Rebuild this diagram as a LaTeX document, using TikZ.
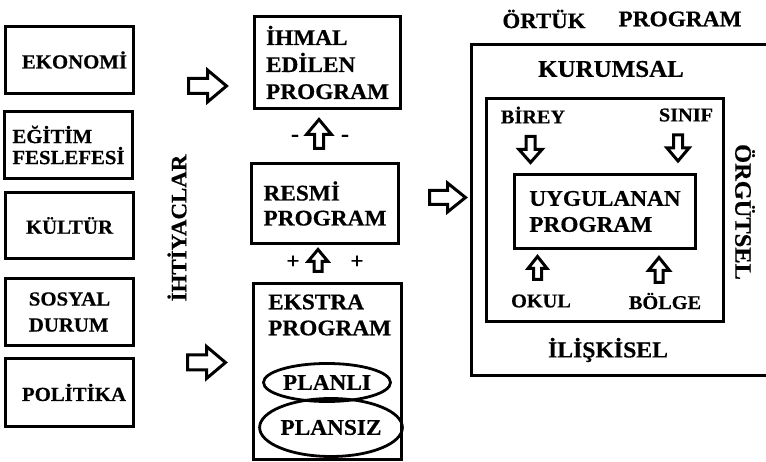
\documentclass[tikz,border=0pt]{standalone}
\usepackage{fontspec}
\setmainfont{Liberation Serif}[FakeStretch=1.04, BoldFeatures={FakeBold=0.5}]
\usetikzlibrary{shapes.geometric}

\tikzset{
  boxline/.style={line width=3.2pt},
  box/.style={draw, boxline, inner sep=0pt, align=left, font=\bigfont},
  label/.style={inner sep=0pt, align=left},
  arrowline/.style={line width=3pt, line join=miter, fill=white},
  % hollow block arrow pointing right: length / head length / head width / shaft width
  pics/hollowarrow/.style args={#1/#2/#3/#4}{code={
    \draw[arrowline] (-#1/2,-#4/2) -- (#1/2-#2,-#4/2) -- (#1/2-#2,-#3/2)
      -- (#1/2,0) -- (#1/2-#2,#3/2) -- (#1/2-#2,#4/2) -- (-#1/2,#4/2) -- cycle;
  }}
}
\newcommand\bigfont{\fontsize{22.4}{26}\selectfont\bfseries}
\newcommand\leftfont{\fontsize{20}{26}\selectfont\bfseries}
\newcommand\smallfont{\fontsize{19.5}{22}\selectfont\bfseries}

\begin{document}
\begin{tikzpicture}[x=1pt, y=-1pt]
\useasboundingbox (0,0) rectangle (766,462);

% --- needs on the left ---
\node[box, font=\leftfont, minimum width=128pt, minimum height=67pt] (eko) at (69.5,60) {\hspace*{10pt}EKONOMİ};
\node[box, font=\fontsize{20}{21}\selectfont\bfseries, minimum width=128pt, minimum height=67pt] (egi) at (68.5,145) {EĞİTİM\\FESLEFESİ};
\node[box, font=\leftfont, minimum width=128pt, minimum height=66pt] (kul) at (69.5,225.5) {KÜLTÜR};
\node[box, font=\leftfont, minimum width=128pt, minimum height=67pt] (sos) at (69.5,312) {SOSYAL\\DURUM};
\node[box, font=\leftfont, minimum width=128pt, minimum height=68pt] (pol) at (69.5,392.5) {\hspace*{9pt}POLİTİKA};

\node[label, font=\fontsize{22}{26}\selectfont\bfseries, rotate=90] (iht) at (177,228) {İHTİYACLAR};

% --- middle column ---
\node[box, font=\fontsize{22.4}{27}\selectfont\bfseries, minimum width=146pt, minimum height=92pt] (ihmal) at (327.5,62.5) {İHMAL\\EDİLEN\\PROGRAM};
\node[box, font=\fontsize{22.4}{25}\selectfont\bfseries, minimum width=147pt, minimum height=80pt] (resmi) at (325,203.5) {RESMİ\\PROGRAM};
\node[box, minimum width=148pt, minimum height=176pt] (ekstra) at (327.5,371.5) {};
\node[label, font=\fontsize{22.4}{26}\selectfont\bfseries, anchor=west] (ekstratxt) at (268,315) {EKSTRA\\PROGRAM};
\node[draw, ellipse, line width=2.8pt, inner sep=0pt, minimum width=127pt, minimum height=38pt, font=\bigfont] (planli) at (327,382.5) {PLANLI};
\node[draw, ellipse, line width=2.8pt, inner sep=0pt, minimum width=135pt, minimum height=58pt, font=\bigfont] (plansiz) at (331,427.5) {PLANSIZ};

\node[label, font=\bigfont] (m1) at (295,138) {-};
\node[label, font=\bigfont] (m2) at (345,138) {-};
\node[label, font=\bigfont] (p1) at (293,262) {+};
\node[label, font=\bigfont] (p2) at (357,262) {+};

% --- hidden curriculum on the right ---
\coordinate (otr) at (766,44.5);
\coordinate (otl) at (471.5,44.5);
\coordinate (obl) at (471.5,375.5);
\coordinate (obr) at (766,375.5);
\draw[boxline] (otr) -- (otl) -- (obl) -- (obr);

\node[label, font=\fontsize{22}{26}\selectfont\bfseries] (ortuk) at (544,19) {ÖRTÜK};
\node[label, font=\bigfont] (ortprog) at (680,19) {PROGRAM};
\node[label, font=\fontsize{24}{26}\selectfont\bfseries] (kurum) at (611,69) {KURUMSAL};
\node[label, font=\fontsize{22.8}{26}\selectfont\bfseries] (iliski) at (608,350) {İLİŞKİSEL};
\node[label, font=\fontsize{23.5}{26}\selectfont\bfseries, rotate=-90] (orgut) at (745,212) {ÖRGÜTSEL};

\node[box, minimum width=237pt, minimum height=223pt] (inner) at (605,210) {};
\node[box, font=\fontsize{22.4}{26}\selectfont\bfseries, minimum width=181pt, minimum height=74pt] (uyg) at (605,211.5) {UYGULANAN\\PROGRAM};

\node[label, font=\smallfont] (birey) at (533,115) {BİREY};
\node[label, font=\smallfont] (sinif) at (686,115) {SINIF};
\node[label, font=\smallfont] (okul) at (541,301) {OKUL};
\node[label, font=\smallfont] (bolge) at (665,301) {BÖLGE};

% --- block arrows ---
\pic at (207.5,86) {hollowarrow={38/19/32/15}};
\pic at (206.5,362.5) {hollowarrow={38/19/32/15}};
\pic at (447.5,197.5) {hollowarrow={36/18/29/14}};

\pic[rotate=90] at (319,134) {hollowarrow={29/15/25/9}};
\pic[rotate=90] at (318,260.5) {hollowarrow={22/12/20/8}};

\pic[rotate=-90] at (530.5,149.5) {hollowarrow={26/13/23/9}};
\pic[rotate=-90] at (678,148) {hollowarrow={26/13/22/9}};
\pic[rotate=90] at (537.5,268) {hollowarrow={23/12/19/8}};
\pic[rotate=90] at (659,270) {hollowarrow={25/13/21/8}};
\end{tikzpicture}
\end{document}
